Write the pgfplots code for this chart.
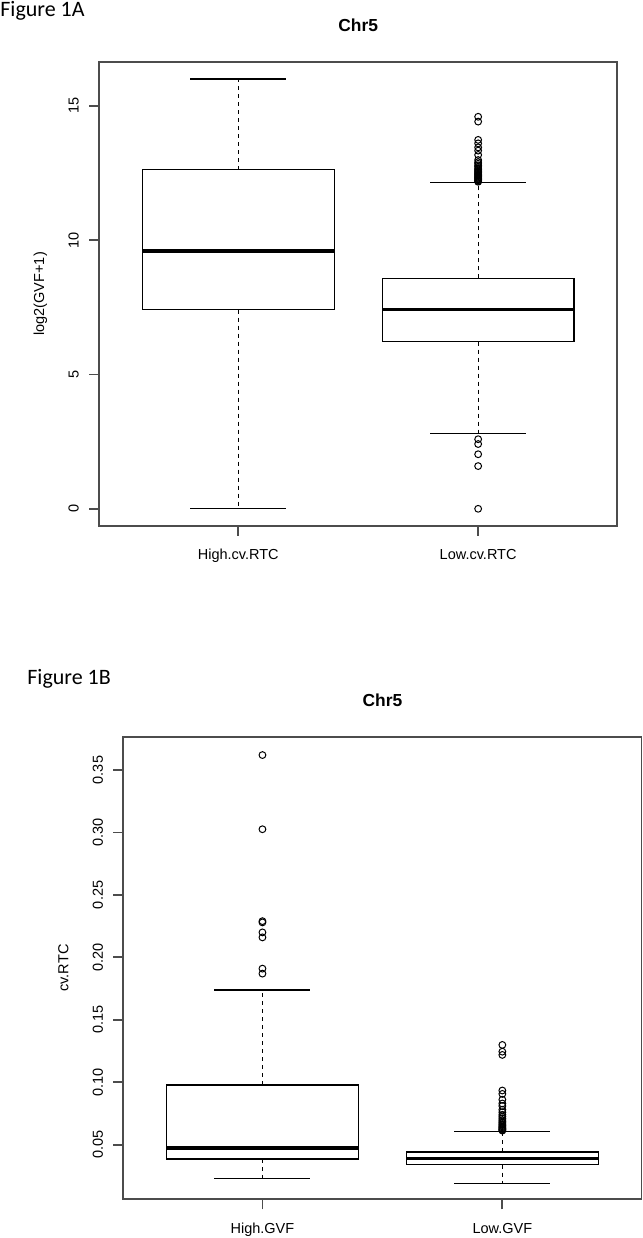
\documentclass[border=0pt]{standalone}
\usepackage{pgfplots}
\pgfplotsset{compat=1.18}
\usepgfplotslibrary{statistics}
\usepackage{fontspec}
\setmainfont{Liberation Sans}
\newfontfamily\carlito{Carlito}

\pgfplotsset{
  rbox/.style={
    black, line width=0.65pt, mark=o,
    mark options={solid, black, line width=0.5pt, mark size=1.7pt},
    boxplot/box extend=0.8,
    boxplot/whisker extend=0.4,
    boxplot/every median/.style={line width=1.7pt},
    boxplot/draw/lower whisker/.code={
      \draw[dash pattern=on 2pt off 2pt]
        (boxplot cs:\pgfplotsboxplotvalue{lower quartile}) --
        (boxplot cs:\pgfplotsboxplotvalue{lower whisker});
      \draw
        (boxplot whisker cs:\pgfplotsboxplotvalue{lower whisker},0) --
        (boxplot whisker cs:\pgfplotsboxplotvalue{lower whisker},1);
    },
    boxplot/draw/upper whisker/.code={
      \draw[dash pattern=on 2pt off 2pt]
        (boxplot cs:\pgfplotsboxplotvalue{upper quartile}) --
        (boxplot cs:\pgfplotsboxplotvalue{upper whisker});
      \draw
        (boxplot whisker cs:\pgfplotsboxplotvalue{upper whisker},0) --
        (boxplot whisker cs:\pgfplotsboxplotvalue{upper whisker},1);
    },
  },
  raxis/.style={
    boxplot/draw direction=y,
    scale only axis, width=259.1pt,
    xmin=0.42, xmax=2.58, xtick={1,2},
    tick align=outside, major tick length=5pt,
    xtick pos=bottom, ytick pos=left,
    axis line style={black!70, line width=0.9pt},
    every tick/.style={black!70, line width=0.9pt},
    ticklabel style={font=\fontsize{7.25}{8.7}\selectfont, inner sep=0pt},
    yticklabel style={rotate=90, anchor=south},
    yticklabel shift=5pt,
    xticklabel style={anchor=base},
    xticklabel shift=12pt,
    label style={font=\fontsize{7.25}{8.7}\selectfont, inner sep=0pt},
    ylabel style={at={(axis description cs:-0.1061,0.5)}, anchor=base},
    every axis title/.style={at={(0.5,1)}, anchor=base, yshift=15pt, inner sep=0pt,
      font=\bfseries\fontsize{8.7}{10}\selectfont},
    /pgf/number format/assume math mode=true,
    clip=false,
  },
}

\begin{document}
\begin{tikzpicture}
\path[use as bounding box] (0pt,0pt) rectangle (321.5pt,619pt);

\node[anchor=base west, inner sep=0pt, font=\carlito\fontsize{11}{13}\selectfont] at (0pt,610.5pt) {Figure 1A};
\node[anchor=base west, inner sep=0pt, font=\carlito\fontsize{11}{13}\selectfont] at (13.5pt,276.5pt) {Figure 1B};

% Panel A
\begin{axis}[raxis, at={(49.55pt,356pt)}, anchor=south west, height=232.15pt,
  ymin=-0.64, ymax=16.64, ytick={0,5,10,15},
  xticklabels={High.cv.RTC,Low.cv.RTC},
  ylabel={log2(GVF+1)}, title={Chr5}]
\addplot+[rbox, boxplot prepared={draw position=1,
  lower whisker=0, lower quartile=7.41, median=9.59,
  upper quartile=12.62, upper whisker=16.0}] coordinates {};
\addplot+[rbox, boxplot prepared={draw position=2,
  lower whisker=2.81, lower quartile=6.22, median=7.42,
  upper quartile=8.58, upper whisker=12.14}] coordinates {
  (0,12.17)(0,12.20)(0,12.23)(0,12.26)(0,12.29)(0,12.32)(0,12.35)(0,12.38)
  (0,12.41)(0,12.44)(0,12.47)(0,12.51)(0,12.55)(0,12.59)(0,12.63)(0,12.68)
  (0,12.73)(0,12.78)(0,12.84)(0,12.90)(0,12.98)(0,13.17)(0,13.33)(0,13.45)
  (0,13.60)(0,13.73)(0,14.41)(0,14.59)
  (0,2.59)(0,2.41)(0,2.03)(0,1.59)(0,0.0)};
\end{axis}

% Panel B
\begin{axis}[raxis, at={(61.65pt,19.35pt)}, anchor=south west, height=231.3pt,
  ymin=0.0063, ymax=0.3767, ytick={0.05,0.10,0.15,0.20,0.25,0.30,0.35},
  yticklabels={0.05,0.10,0.15,0.20,0.25,0.30,0.35},
  xticklabels={High.GVF,Low.GVF},
  ylabel={cv.RTC}, title={Chr5}]
\addplot+[rbox, boxplot prepared={draw position=1,
  lower whisker=0.0228, lower quartile=0.0386, median=0.0474,
  upper quartile=0.0979, upper whisker=0.174}] coordinates {
  (0,0.362)(0,0.3026)(0,0.229)(0,0.228)(0,0.220)(0,0.216)(0,0.191)(0,0.187)};
\addplot+[rbox, boxplot prepared={draw position=2,
  lower whisker=0.0191, lower quartile=0.0340, median=0.0391,
  upper quartile=0.0442, upper whisker=0.0606}] coordinates {
  (0,0.1299)(0,0.1245)(0,0.1219)(0,0.0934)(0,0.0907)(0,0.0860)(0,0.0830)
  (0,0.0810)(0,0.0780)(0,0.0760)(0,0.0740)(0,0.0726)(0,0.0712)(0,0.0698)
  (0,0.0686)(0,0.0675)(0,0.0665)(0,0.0656)(0,0.0647)(0,0.0639)(0,0.0632)
  (0,0.0625)(0,0.0619)(0,0.0613)};
\end{axis}
\end{tikzpicture}
\end{document}
